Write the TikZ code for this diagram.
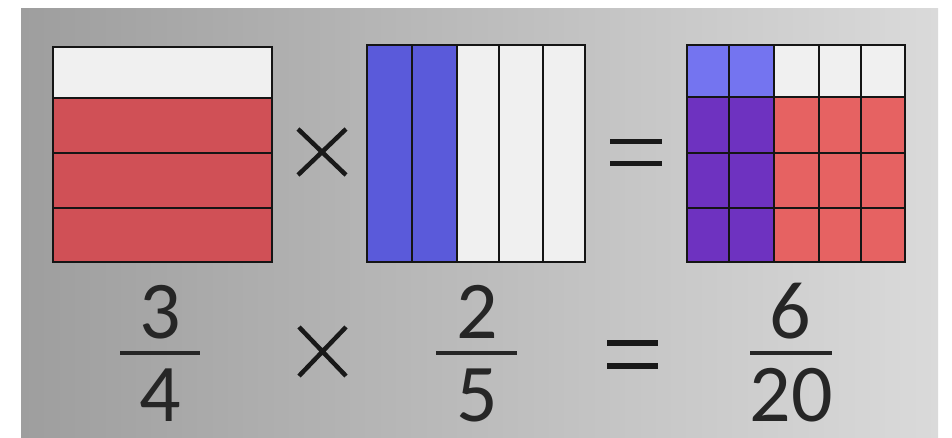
\documentclass[tikz,border=0pt]{standalone}
\usepackage{fontspec}
\setmainfont{Carlito}
\definecolor{redc}{HTML}{D05056}
\definecolor{redr}{HTML}{E66262}
\definecolor{whc}{HTML}{F0F0F0}
\definecolor{bluec}{HTML}{5A5ADA}
\definecolor{lbluec}{HTML}{7474F0}
\definecolor{purc}{HTML}{6E32C0}
\definecolor{gridl}{HTML}{151515}
\begin{document}
\begin{tikzpicture}[x=1pt,y=-1pt,
  gl/.style={draw=gridl,line width=2.4pt},
  digit/.style={anchor=base,inner sep=0pt,font=\fontsize{82}{82}\selectfont,text=black!85},
  fbar/.style={line width=3.5pt,black!85},
  sym/.style={line width=4.5pt,black!90}]
\useasboundingbox (0,0) rectangle (952,438);
\fill[white] (0,0) rectangle (952,438);
\shade[left color={rgb,255:red,158;green,158;blue,158},right color={rgb,255:red,218;green,218;blue,218}] (21,9) rectangle (938,438);
% left box 3/4
\fill[whc] (53,47) rectangle (272,98);
\fill[redc] (53,98) rectangle (272,262);
\draw[gl] (53,98) -- (272,98) (53,153) -- (272,153) (53,208) -- (272,208);
\draw[gl] (53,47) rectangle (272,262);
% middle box 2/5
\fill[bluec] (367,45) rectangle (457,262);
\fill[whc] (457,45) rectangle (585,262);
\foreach \x in {412,457,499,543} \draw[gl] (\x,45) -- (\x,262);
\draw[gl] (367,45) rectangle (585,262);
% right grid
\fill[lbluec] (687,45) rectangle (774,97);
\fill[whc] (774,45) rectangle (905,97);
\fill[purc] (687,97) rectangle (774,262);
\fill[redr] (774,97) rectangle (905,262);
\foreach \x in {729,774,819,861} \draw[gl] (\x,45) -- (\x,262);
\foreach \y in {97,153,208} \draw[gl] (687,\y) -- (905,\y);
\draw[gl] (687,45) rectangle (905,262);
% upper symbols
\coordinate (tx1) at (298,129); \coordinate (tx2) at (346,175);
\coordinate (tx3) at (346,129); \coordinate (tx4) at (298,175);
\draw[sym] (tx1) -- (tx2) (tx3) -- (tx4);
\coordinate (te1) at (610,142); \coordinate (te2) at (662,142);
\coordinate (te3) at (610,164); \coordinate (te4) at (662,164);
\draw[sym,line width=5pt] (te1) -- (te2) (te3) -- (te4);
% fractions
\node[digit] (n1) at (160,338) {3};
\node[digit] (d1) at (160,421) {4};
\draw[fbar] (120,353) -- (200,353);
\node[digit] (n2) at (477,338) {2};
\node[digit] (d2) at (477,421) {5};
\draw[fbar] (436,353) -- (517,353);
\node[digit] (n3) at (790,338) {6};
\node[digit] (d3) at (791,421) {20};
\draw[fbar] (750,353) -- (832,353);
% lower symbols
\coordinate (bx1) at (299,327); \coordinate (bx2) at (346,376);
\coordinate (bx3) at (346,327); \coordinate (bx4) at (299,376);
\draw[sym,line width=4.5pt] (bx1) -- (bx2) (bx3) -- (bx4);
\coordinate (be1) at (607,343); \coordinate (be2) at (658,343);
\coordinate (be3) at (607,366); \coordinate (be4) at (658,366);
\draw[sym,line width=5.5pt] (be1) -- (be2) (be3) -- (be4);
\end{tikzpicture}
\end{document}
